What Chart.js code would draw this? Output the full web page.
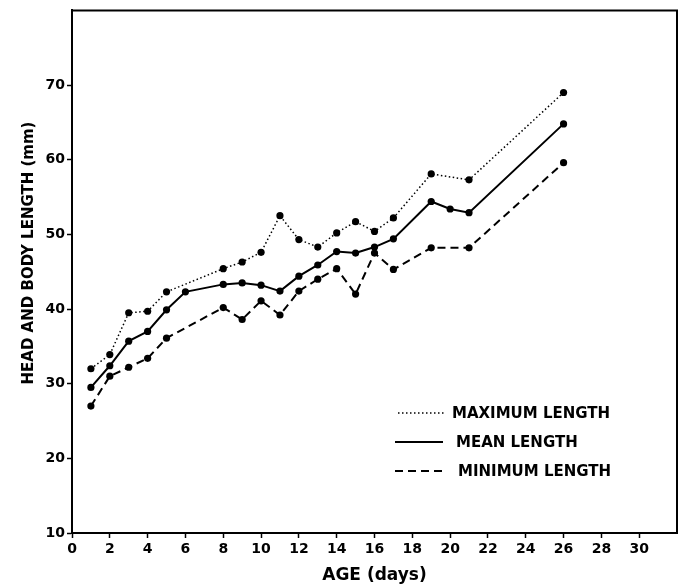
<!DOCTYPE html>
<html>
<head>
<meta charset="utf-8">
<script src="https://cdn.jsdelivr.net/npm/chart.js@4.4.1/dist/chart.umd.min.js"></script>
<style>
  html, body { margin: 0; padding: 0; background: #fff; }
  canvas { display: block; }
</style>
</head>
<body>
<canvas id="lengthChart" width="683" height="586"></canvas>
<script>
// age in days; null = no sample for that series on that day
const days = [1, 2, 3, 4, 5, 6, 8, 9, 10, 11, 12, 13, 14, 15, 16, 17, 19, 20, 21, 26];
const maxLength = [32.0, 33.9, 39.5, 39.7, 42.3, null, 45.4, 46.3, 47.6, 52.5, 49.3, 48.3, 50.2, 51.7, 50.4, 52.2, 58.1, null, 57.3, 69.0];
const meanLength = [29.5, 32.4, 35.7, 37.0, 39.9, 42.3, 43.3, 43.5, 43.2, 42.4, 44.4, 45.9, 47.7, 47.5, 48.3, 49.4, 54.4, 53.4, 52.9, 64.8];
const minLength = [27.0, 31.0, 32.2, 33.4, 36.1, null, 40.2, 38.6, 41.1, 39.2, 42.4, 44.0, 45.4, 42.0, 47.5, 45.3, 48.2, null, 48.2, 59.6];

const xTicks = { min: 0, max: 32, step: 2, hidden: 32 };
const yTicks = { min: 10, max: 80, step: 10, hidden: 80 };

const seriesNames = ["MAXIMUM LENGTH", "MEAN LENGTH", "MINIMUM LENGTH"];

Chart.defaults.font.family = "'DejaVu Sans', sans-serif";
Chart.defaults.color = "#000";

function toPoints(values) {
  return days.map((d, i) => ({ x: d, y: values[i] }));
}

function makeSeries(label, values, dash, width) {
  return {
    label: label,
    data: toPoints(values),
    borderColor: "#000",
    backgroundColor: "#000",
    borderWidth: width,
    borderDash: dash,
    pointRadius: 3.6,
    pointBorderWidth: 0,
    pointBackgroundColor: "#000",
    spanGaps: true,
    tension: 0,
  };
}

// legend drawn inside the plot, like the original figure
const insideLegend = {
  id: "insideLegend",
  afterDraw(chart) {
    const ctx = chart.ctx;
    const rows = [
      { y: 413, x0: 398, x1: 446, tx: 452 },
      { y: 442, x0: 395, x1: 443, tx: 456 },
      { y: 471, x0: 395, x1: 447, tx: 458 },
    ];
    ctx.save();
    chart.data.datasets.forEach((ds, i) => {
      const r = rows[i];
      ctx.strokeStyle = "#000";
      ctx.lineWidth = ds.borderWidth;
      ctx.setLineDash(ds.borderDash || []);
      ctx.beginPath();
      ctx.moveTo(r.x0, r.y);
      ctx.lineTo(r.x1, r.y);
      ctx.stroke();
      ctx.setLineDash([]);
      ctx.fillStyle = "#000";
      ctx.font = "bold 15px 'DejaVu Sans'";
      ctx.textBaseline = "middle";
      ctx.textAlign = "left";
      ctx.fillText(ds.label, r.tx, r.y + 1);
    });
    ctx.restore();
  },
};

// top/right frame lines and the vertical axis title
const frame = {
  id: "frame",
  afterDraw(chart) {
    const { ctx, chartArea } = chart;
    ctx.save();
    ctx.strokeStyle = "#000";
    ctx.lineWidth = 2;
    ctx.beginPath();
    ctx.moveTo(chartArea.left, chartArea.top);
    ctx.lineTo(chartArea.right, chartArea.top);
    ctx.lineTo(chartArea.right, chartArea.bottom);
    ctx.stroke();

    ctx.translate(29, 253);
    ctx.rotate(-Math.PI / 2);
    ctx.font = "bold 15px 'DejaVu Sans'";
    ctx.fillStyle = "#000";
    ctx.textAlign = "center";
    ctx.textBaseline = "middle";
    ctx.fillText("HEAD AND BODY LENGTH (mm)", 0, 0);
    ctx.restore();
  },
};

const axisGrid = {
  display: true,
  drawOnChartArea: false,
  drawTicks: true,
  tickLength: 5,
  tickColor: "#000",
  tickWidth: 1.5,
};
const axisBorder = { display: true, color: "#000", width: 2 };
const tickFont = { size: 14, weight: "bold" };

new Chart(document.getElementById("lengthChart"), {
  type: "line",
  data: {
    datasets: [
      makeSeries(seriesNames[0], maxLength, [1.5, 2.5], 1.5),
      makeSeries(seriesNames[1], meanLength, [], 2),
      makeSeries(seriesNames[2], minLength, [8, 5], 2),
    ],
  },
  options: {
    responsive: false,
    animation: false,
    layout: { padding: { top: 8, right: 6, left: 0, bottom: 0 } },
    plugins: {
      legend: { display: false },
      tooltip: { enabled: false },
    },
    scales: {
      x: {
        type: "linear",
        min: xTicks.min,
        max: xTicks.max,
        grid: axisGrid,
        border: axisBorder,
        ticks: {
          stepSize: xTicks.step,
          font: tickFont,
          color: "#000",
          padding: 3,
          maxRotation: 0,
          callback: (v) => (v === xTicks.hidden ? null : v),
        },
        title: {
          display: true,
          text: "AGE (days)",
          font: { size: 17, weight: "bold" },
          color: "#000",
          padding: { top: 0, bottom: 0 },
        },
        afterFit: (scale) => {
          scale.height = 53;
        },
      },
      y: {
        min: yTicks.min,
        max: yTicks.max,
        grid: axisGrid,
        border: axisBorder,
        ticks: {
          stepSize: yTicks.step,
          font: tickFont,
          color: "#000",
          padding: 2,
          callback: (v) => (v === yTicks.hidden ? null : v),
        },
        afterFit: (scale) => {
          scale.width = 72;
        },
      },
    },
  },
  plugins: [insideLegend, frame],
});
</script>
</body>
</html>
